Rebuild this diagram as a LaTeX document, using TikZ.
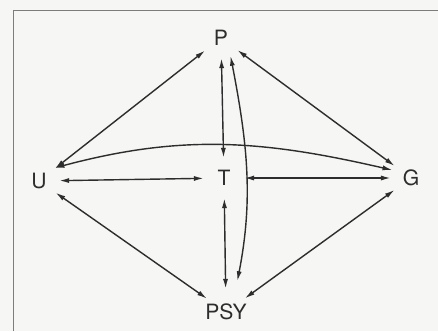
\documentclass[tikz,border=0pt]{standalone}
\usepackage{fontspec}
\setmainfont{TeX Gyre Heros}
\usepackage{tikz}
\usetikzlibrary{arrows.meta,positioning}
\definecolor{paper}{RGB}{246,246,244}
\definecolor{ink}{RGB}{45,45,45}
\definecolor{rule}{RGB}{125,125,125}
\tikzset{
  vertex/.style ={circle, inner sep=0pt, minimum size=1cm, text=ink,
                  font=\fontsize{15}{17}\selectfont},
  link/.style   ={{Latex[length=7pt,width=3.6pt]}-{Latex[length=7pt,width=3.6pt]},
                  line width=1pt, draw=ink},
  frame/.style  ={draw=rule, line width=0.7pt},
}
\begin{document}
\begin{tikzpicture}[x=0.025cm, y=0.025cm]
    \useasboundingbox[fill=paper] (0,0) rectangle (438,331);
    \draw[frame] (13,0) -- (13,320.5) -- (438,320.5);

    % nodes
    \node[vertex] (T) at (224,153) {T};
    \node[vertex] (P) at (221,293) {P};
    \node[vertex] (U) at (39,150) {U};
    \node[vertex] (G) at (411,153) {G};
    \node[vertex, minimum size=1.15cm] (PSY) at (226,19) {PSY};

    % flows
    \draw[link] (U) -- (P);
    \draw[link] (P) -- (G);
    \draw[link] (U) -- (PSY);
    \draw[link] (G) -- (PSY);
    \draw[link] (U) -- (T);
    \draw[link] (T) -- (G);
    \draw[link] (P) -- (T);
    \draw[link] (T) -- (PSY);
    \draw[link] (U.40) to[out=15, in=167] (G.157);
    \draw[link, shorten >=7pt] (P.-62) to[out=-79, in=79] (PSY.66);
\end{tikzpicture}
\end{document}
